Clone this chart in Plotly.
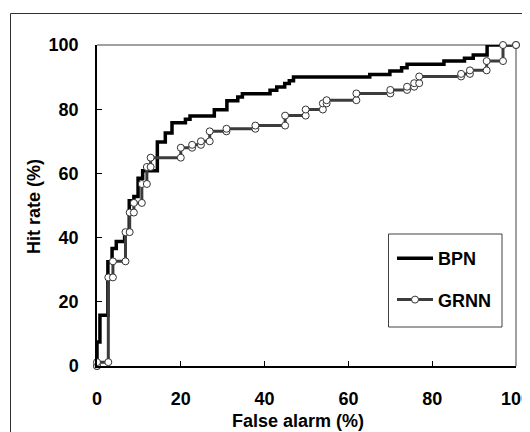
import plotly.graph_objects as go

# BPN step points (x, y): horizontal then vertical
bpn_x = [0, 0, 0.7, 2.6, 3.6, 4.6, 6.6, 7.7, 8.8, 9.8, 10.9, 14.4, 16.3, 17.9, 21.1, 22.2,
         28.0, 31.0, 33.6, 34.7, 41.3, 42.9, 44.8, 45.9, 46.9, 65.1, 69.9, 72.7, 74.0,
         82.8, 87.7, 89.8, 93.1, 100]
bpn_y = [0, 7.5, 15.8, 32.5, 36.6, 38.8, 41.3, 51.5, 52.8, 58.5, 60.8, 69.8, 72.6, 75.8, 76.9, 77.9,
         79.8, 82.6, 83.8, 84.8, 85.9, 86.9, 88.0, 88.9, 90.0, 90.8, 91.9, 92.9, 94.0,
         95.0, 95.9, 96.9, 100, 100]

# GRNN step points (x, y): horizontal then vertical
grnn_x = [0, 0, 2.7, 3.8, 6.8, 7.8, 8.8, 10.7, 11.9, 12.8, 20.0, 22.7, 24.8, 26.9, 30.9,
          37.8, 44.9, 49.8, 53.9, 54.8, 61.9, 70.0, 74.0, 75.7, 76.9, 86.9, 89.0, 93.0, 96.9, 100]
grnn_y = [0, 1.2, 27.6, 32.6, 41.7, 47.8, 50.8, 56.7, 62.0, 64.9, 68.0, 68.9, 70.0, 73.1, 73.9,
          74.9, 78.0, 79.9, 81.8, 82.8, 84.9, 86.0, 87.0, 88.1, 90.2, 91.0, 92.1, 95.0, 100, 100]

x_ticks = [0, 20, 40, 60, 80, 100]
y_ticks = [0, 20, 40, 60, 80, 100]

# expand GRNN steps into explicit vertices so every corner gets a marker
gx, gy = [grnn_x[0]], [grnn_y[0]]
for i in range(1, len(grnn_x)):
    gx += [grnn_x[i], grnn_x[i]]
    gy += [grnn_y[i - 1], grnn_y[i]]

OFF = 8  # page body margin
W, H = 522, 424
L, R, T, B = 89, 14, 37, 66
pw, ph = W - L - R, H - T - B


def px(xp):
    return (xp - OFF - L) / pw


def py(yp):
    return (H - B - (yp - OFF)) / ph


fig = go.Figure()
fig.add_trace(go.Scatter(x=bpn_x, y=bpn_y, mode="lines", name="BPN", line_shape="hv",
                         line=dict(color="#000000", width=3.5), legendgroup="a", cliponaxis=False))
fig.add_trace(go.Scatter(x=gx, y=gy, mode="lines+markers", name="GRNN",
                         line=dict(color="#3c3c3c", width=3),
                         marker=dict(symbol="circle", size=7, color="white",
                                     line=dict(color="#333333", width=1)),
                         legendgroup="b", cliponaxis=False))

font = dict(family="Liberation Sans, Arial, sans-serif", size=18, color="#000000", weight="bold")

fig.update_layout(
    width=W, height=H,
    margin=dict(l=L, r=R, t=T, b=B, autoexpand=False),
    paper_bgcolor="white", plot_bgcolor="white",
    font=font,
    showlegend=True,
    legend=dict(x=px(392), y=py(240), xanchor="left", yanchor="top",
                bgcolor="rgba(0,0,0,0)", borderwidth=0, tracegroupgap=15,
                font=font, itemwidth=36),
    xaxis=dict(range=[0, 100], tickvals=x_ticks, ticks="inside", ticklen=5, tickwidth=1,
               tickcolor="#000", showline=True, linecolor="#000", linewidth=1.5,
               showgrid=False, zeroline=False, ticklabelstandoff=16, tickfont=font,
               ticklabeloverflow="allow"),
    yaxis=dict(range=[0, 100], tickvals=y_ticks, ticks="inside", ticklen=5, tickwidth=1,
               tickcolor="#000", showline=True, linecolor="#000", linewidth=1.5,
               showgrid=False, zeroline=False, ticklabelstandoff=13, tickfont=font,
               ticklabeloverflow="allow"),
    shapes=[
        # top and right plot border (grey)
        dict(type="line", xref="paper", yref="paper", x0=0, x1=1, y0=1, y1=1,
             line=dict(color="#808080", width=1.5), layer="below"),
        dict(type="line", xref="paper", yref="paper", x0=1, x1=1, y0=0, y1=1,
             line=dict(color="#808080", width=1.5), layer="below"),
        # legend box
        dict(type="rect", xref="paper", yref="paper", x0=px(388.5), x1=px(502),
             y0=py(327), y1=py(234), line=dict(color="#404040", width=1)),
        # outer frame
        dict(type="rect", xref="paper", yref="paper", x0=px(10.5), x1=px(545),
             y0=py(445), y1=py(13.5), line=dict(color="#303030", width=1)),
    ],
    annotations=[
        dict(text="False alarm (%)", xref="paper", yref="paper", x=px(297.6), y=py(421),
             xanchor="center", yanchor="middle", showarrow=False, font=font),
        dict(text="Hit rate (%)", xref="paper", yref="paper", x=px(34), y=py(206),
             xanchor="center", yanchor="middle", showarrow=False, textangle=-90, font=font),
    ],
)

fig.write_html("out.html")
